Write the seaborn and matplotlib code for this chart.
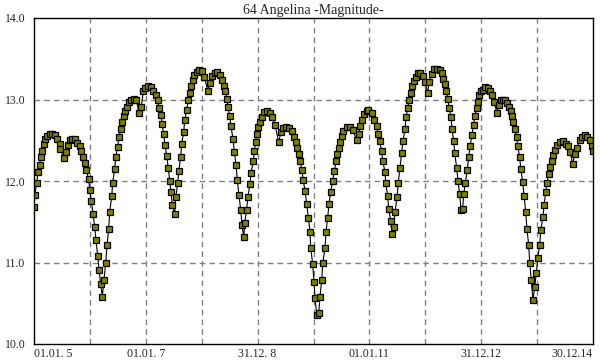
import numpy as np
import pandas as pd
import matplotlib
matplotlib.use('Agg')
import matplotlib.pyplot as plt
import seaborn as sns

# Zeitpunkte (Dezimaljahr) und Helligkeit
t_2005 = [2005.000, 2005.013, 2005.048, 2005.072, 2005.102, 2005.120, 2005.143, 2005.174,
          2005.202, 2005.238, 2005.281, 2005.322, 2005.370, 2005.417, 2005.460, 2005.470,
          2005.531, 2005.567, 2005.608, 2005.639, 2005.685, 2005.728, 2005.769, 2005.818,
          2005.846, 2005.877, 2005.907, 2005.936, 2005.979, 2005.996, 2006.025, 2006.055,
          2006.086, 2006.109, 2006.140, 2006.163, 2006.193, 2006.222, 2006.252, 2006.283,
          2006.306, 2006.336, 2006.354, 2006.390, 2006.408, 2006.444, 2006.462, 2006.497,
          2006.521, 2006.551, 2006.580, 2006.605, 2006.628, 2006.658, 2006.699, 2006.741,
          2006.789, 2006.830, 2006.878, 2006.920, 2006.955, 2006.991, 2007.039, 2007.088]
m_2005 = [11.68, 11.83, 11.97, 12.11, 12.20, 12.29, 12.37, 12.45,
          12.51, 12.55, 12.58, 12.58, 12.56, 12.51, 12.46, 12.39,
          12.28, 12.35, 12.44, 12.50, 12.52, 12.51, 12.47, 12.43,
          12.37, 12.30, 12.22, 12.13, 12.02, 11.89, 11.76, 11.60,
          11.44, 11.27, 11.08, 10.91, 10.74, 10.58, 10.79, 11.00,
          11.21, 11.41, 11.62, 11.81, 11.98, 12.15, 12.30, 12.42,
          12.54, 12.64, 12.72, 12.80, 12.86, 12.91, 12.97, 13.00,
          13.01, 13.00, 12.83, 12.91, 13.10, 13.14, 13.16, 13.15]

t_2007 = [2007.134, 2007.177, 2007.213, 2007.236, 2007.272, 2007.290, 2007.320, 2007.343,
          2007.374, 2007.402, 2007.428, 2007.451, 2007.474, 2007.517, 2007.535, 2007.571,
          2007.589, 2007.624, 2007.642, 2007.678, 2007.696, 2007.732, 2007.760, 2007.791,
          2007.814, 2007.839, 2007.868, 2007.911, 2007.957, 2008.005, 2008.047, 2008.107,
          2008.148, 2008.190, 2008.238, 2008.279, 2008.327, 2008.369, 2008.399, 2008.422,
          2008.453, 2008.470, 2008.501, 2008.524, 2008.560, 2008.583, 2008.614, 2008.637,
          2008.667, 2008.698, 2008.721, 2008.752, 2008.769, 2008.805, 2008.823, 2008.864,
          2008.882, 2008.923, 2008.941, 2008.966, 2008.984]
m_2007 = [13.11, 13.06, 12.99, 12.90, 12.81, 12.70, 12.58, 12.44,
          12.31, 12.16, 12.00, 11.86, 11.70, 11.60, 11.80, 11.97,
          12.12, 12.29, 12.46, 12.60, 12.75, 12.87, 12.99, 13.08,
          13.17, 13.24, 13.30, 13.34, 13.36, 13.35, 13.28, 13.11,
          13.20, 13.29, 13.33, 13.34, 13.30, 13.24, 13.17, 13.10,
          13.01, 12.91, 12.80, 12.67, 12.52, 12.36, 12.20, 12.01,
          11.83, 11.64, 11.46, 11.31, 11.49, 11.64, 11.80, 11.96,
          12.10, 12.24, 12.37, 12.48, 12.58]

t_2009 = [2009.013, 2009.043, 2009.073, 2009.115, 2009.174, 2009.222, 2009.263, 2009.311,
          2009.377, 2009.419, 2009.460, 2009.508, 2009.562, 2009.610, 2009.646, 2009.687,
          2009.710, 2009.746, 2009.764, 2009.789, 2009.817, 2009.848, 2009.878, 2009.907,
          2009.937, 2009.950, 2009.986, 2010.009, 2010.027, 2010.057, 2010.093, 2010.116,
          2010.147, 2010.165, 2010.206, 2010.224, 2010.254, 2010.277, 2010.308, 2010.343,
          2010.372, 2010.402, 2010.415, 2010.451, 2010.474, 2010.504, 2010.533, 2010.594,
          2010.653, 2010.701, 2010.773, 2010.809, 2010.832, 2010.873, 2010.909, 2010.952,
          2010.980]
m_2009 = [12.66, 12.73, 12.79, 12.85, 12.86, 12.83, 12.79, 12.69,
          12.48, 12.60, 12.65, 12.66, 12.65, 12.61, 12.54, 12.48,
          12.41, 12.33, 12.24, 12.14, 12.01, 11.88, 11.72, 11.55,
          11.38, 11.18, 10.98, 10.76, 10.57, 10.36, 10.38, 10.58,
          10.78, 10.99, 11.18, 11.38, 11.55, 11.72, 11.87, 12.00,
          12.12, 12.24, 12.33, 12.41, 12.48, 12.55, 12.61, 12.66,
          12.66, 12.63, 12.50, 12.58, 12.67, 12.75, 12.82, 12.86,
          12.87]

t_2011 = [2011.041, 2011.088, 2011.131, 2011.159, 2011.184, 2011.220, 2011.238, 2011.279,
          2011.292, 2011.327, 2011.345, 2011.381, 2011.404, 2011.440, 2011.458, 2011.494,
          2011.517, 2011.547, 2011.578, 2011.601, 2011.637, 2011.655, 2011.685, 2011.714,
          2011.744, 2011.767, 2011.798, 2011.828, 2011.864, 2011.905, 2011.959, 2011.995,
          2012.043, 2012.066, 2012.114, 2012.161, 2012.209, 2012.258, 2012.293, 2012.317,
          2012.347, 2012.370, 2012.406, 2012.424, 2012.460, 2012.478, 2012.508, 2012.526,
          2012.562, 2012.585, 2012.615, 2012.639, 2012.669, 2012.687, 2012.716, 2012.751,
          2012.776, 2012.805, 2012.830, 2012.866, 2012.884, 2012.919, 2012.937, 2012.966,
          2012.996]
m_2011 = [12.83, 12.75, 12.67, 12.58, 12.49, 12.37, 12.25, 12.11,
          11.97, 11.82, 11.66, 11.51, 11.35, 11.43, 11.62, 11.80,
          11.98, 12.16, 12.34, 12.49, 12.64, 12.78, 12.90, 13.00,
          13.08, 13.16, 13.23, 13.28, 13.32, 13.33, 13.29, 13.21,
          13.08, 13.22, 13.31, 13.37, 13.38, 13.36, 13.32, 13.25,
          13.19, 13.10, 13.01, 12.90, 12.78, 12.64, 12.49, 12.34,
          12.16, 12.00, 11.84, 11.65, 11.66, 11.84, 11.98, 12.14,
          12.29, 12.43, 12.56, 12.69, 12.80, 12.90, 12.97, 13.05,
          13.10]

t_2013 = [2013.032, 2013.073, 2013.122, 2013.163, 2013.193, 2013.229, 2013.283, 2013.313,
          2013.349, 2013.390, 2013.431, 2013.467, 2013.497, 2013.533, 2013.551, 2013.569,
          2013.599, 2013.635, 2013.653, 2013.689, 2013.707, 2013.742, 2013.766, 2013.796,
          2013.819, 2013.850, 2013.868, 2013.896, 2013.927, 2013.957, 2013.986, 2014.011,
          2014.047, 2014.065, 2014.106, 2014.123, 2014.154, 2014.177, 2014.207, 2014.231,
          2014.261, 2014.290, 2014.320, 2014.356, 2014.404, 2014.463, 2014.512, 2014.553,
          2014.589, 2014.637, 2014.673, 2014.714, 2014.762, 2014.803, 2014.851, 2014.898,
          2014.941, 2014.987, 2015.000]
m_2013 = [13.12, 13.15, 13.14, 13.10, 13.05, 12.97, 12.83, 12.93,
          12.99, 13.00, 12.99, 12.96, 12.91, 12.86, 12.80, 12.73,
          12.64, 12.54, 12.43, 12.29, 12.15, 11.99, 11.82, 11.62,
          11.41, 11.21, 11.00, 10.78, 10.54, 10.70, 10.87, 11.05,
          11.22, 11.40, 11.56, 11.70, 11.86, 11.98, 12.08, 12.17,
          12.25, 12.32, 12.38, 12.44, 12.48, 12.49, 12.46, 12.43,
          12.36, 12.21, 12.33, 12.41, 12.50, 12.54, 12.56, 12.54,
          12.50, 12.43, 12.37]

# Achsenbeschriftung
tick_pos = [2005, 2007, 2009, 2011, 2013, 2015]
tick_labels = ['01.01. 5', '01.01. 7', '31.12. 8', '01.01.11', '31.12.12', '30.12.14']
grid_years = [2006, 2007, 2008, 2009, 2010, 2011, 2012, 2013, 2014]
y_ticks = [10.0, 11.0, 12.0, 13.0, 14.0]

df = pd.DataFrame({
    'zeit': t_2005 + t_2007 + t_2009 + t_2011 + t_2013,
    'mag': m_2005 + m_2007 + m_2009 + m_2011 + m_2013,
})

sns.set_style('white')
plt.rcParams['font.family'] = ['Liberation Serif', 'DejaVu Serif']

fig = plt.figure(figsize=(6, 3.6), dpi=100)
ax = fig.add_axes([34 / 600, 16 / 360, 559 / 600, 326 / 360])

# Gitterlinien
for g in grid_years:
    ax.axvline(g, color='#808080', lw=1.0, ls=(0, (4, 3)), zorder=0)
for g in [11.0, 12.0, 13.0]:
    ax.axhline(g, color='#808080', lw=1.0, ls=(0, (4, 3)), zorder=0)

sns.lineplot(data=df, x='zeit', y='mag', sort=False, estimator=None, ax=ax,
             color='black', linewidth=0.8, marker='s', markersize=5,
             markerfacecolor='#808000', markeredgecolor='black', markeredgewidth=0.9)

ax.set_xlim(2005, 2015)
ax.set_ylim(10, 14)
ax.set_xticks(tick_pos)
ax.set_xticklabels(tick_labels, fontsize=8.5)
ax.set_yticks(y_ticks)
ax.set_yticklabels([f'{v:.1f}' for v in y_ticks], fontsize=8.5)
xl = ax.get_xticklabels()
xl[0].set_horizontalalignment('left')
xl[-1].set_horizontalalignment('right')
ax.tick_params(axis='both', length=0)
ax.tick_params(axis='y', pad=6)
ax.tick_params(axis='x', pad=3)
ax.set_xlabel('')
ax.set_ylabel('')
for s in ax.spines.values():
    s.set_color('black')
    s.set_linewidth(1.0)
ax.set_title('64 Angelina -Magnitude-', fontsize=10, pad=3)

fig.savefig('out.png', dpi=100)
